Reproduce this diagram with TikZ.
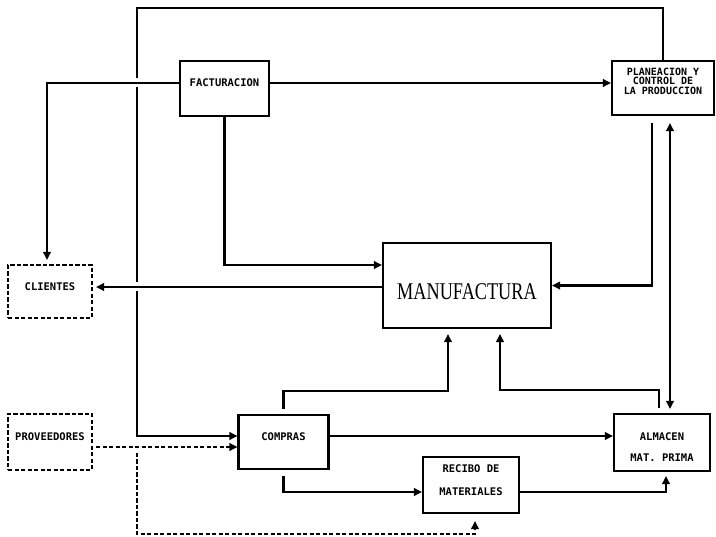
\documentclass[tikz,border=0pt]{standalone}
\usepackage{fontspec}
\usepackage{graphicx}
\newfontfamily\boxfont{DejaVu Sans Mono}
\newfontfamily\manfont{Liberation Serif}
\usetikzlibrary{arrows.meta,calc}
\begin{document}
\begin{tikzpicture}[x=1pt,y=-1pt,
  box/.style={draw,line width=2.1pt,inner sep=0pt},
  dbox/.style={box,dash pattern=on 4.2pt off 2.3pt},
  btext/.style={font=\boxfont\bfseries\fontsize{10.5}{21}\selectfont,align=center,inner sep=0pt},
  conn/.style={line width=2.1pt,-{Triangle[length=8pt,width=7.5pt]}},
  bconn/.style={line width=2.1pt,{Triangle[length=8pt,width=7.5pt]}-{Triangle[length=8pt,width=7.5pt]}},
  dconn/.style={conn,dash pattern=on 4.2pt off 2.3pt},
  gapwhite/.style={preaction={draw=white,line width=9pt,-,shorten <=3pt,shorten >=3pt}}]
\fill[white] (0,0) rectangle (716,537);
\useasboundingbox (0,0) rectangle (716,537);

% boxes
\node[box,minimum width=89pt,minimum height=55pt,
  label={[btext,name=factt,yshift=5.5pt]center:FACTURACION}] (fact) at (224.5,88.5) {};
\node[box,minimum width=102pt,minimum height=54pt,
  label={[btext,name=plant,yshift=7pt,font=\boxfont\bfseries\fontsize{10}{9.5}\selectfont]center:{PLANEACION Y\\CONTROL DE\\LA PRODUCCION}}] (plan) at (663,88) {};
\node[box,minimum width=168pt,minimum height=85pt,
  label={[name=manut,inner sep=0pt,yshift=-6.5pt]center:{\manfont\fontsize{24}{24}\selectfont\scalebox{0.76}[1]{MANUFACTURA}}}] (manu) at (467,285.5) {};
\node[dbox,minimum width=84pt,minimum height=53pt,
  label={[btext,name=clit,yshift=4.5pt]center:CLIENTES}] (cli) at (50,291.5) {};
\node[dbox,minimum width=84pt,minimum height=56pt,
  label={[btext,name=provt,yshift=5pt]center:PROVEEDORES}] (prov) at (50,442) {};
\node[box,minimum width=90pt,minimum height=54pt,
  label={[btext,name=compt,yshift=5pt]center:COMPRAS}] (comp) at (283.5,442) {};
\node[box,minimum width=96pt,minimum height=57pt,
  label={[btext,name=almt,yshift=-5pt]center:{ALMACEN\\MAT. PRIMA}}] (alm) at (662,442.5) {};
\node[box,minimum width=96pt,minimum height=56pt,
  label={[btext,name=rect,yshift=4.5pt,font=\boxfont\bfseries\fontsize{10.5}{23}\selectfont]center:{RECIBO DE\\MATERIALES}}] (rec) at (471,485) {};

% big loop: planeacion -> compras
\coordinate (tl) at (137,8);
\draw[conn] (plan.north) |- (tl) |- ([yshift=6pt]comp.west);

% facturacion connectors
\draw[conn] ([yshift=5.5pt]fact.east) -- ([yshift=5.5pt]fact.east -| plan.west);
\draw[conn,gapwhite,shorten >=4pt] ([yshift=5.5pt]fact.west) -| ([xshift=-3pt]cli.north);
\draw[conn] (fact.south) |- ([yshift=20.5pt]manu.west);

% manufactura -> clientes
\draw[conn,gapwhite,shorten >=3pt] ([yshift=-1.5pt]manu.west) -- ([yshift=-1.5pt]manu.west -| cli.east);

% planeacion -> manufactura, planeacion <-> almacen
\coordinate (p1) at ([xshift=-11pt,yshift=-7pt]plan.south);
\draw[conn] (p1) |- (manu.east);
\coordinate (p2) at ([xshift=7pt,yshift=-7pt]plan.south);
\coordinate (p3) at (p2 |- alm.north);
\draw[bconn] (p2) -- ([yshift=4pt]p3);

% compras / almacen -> manufactura
\draw[conn] ([yshift=5pt]comp.north) -- ++(0,-18) -| ([xshift=-19pt,yshift=-5pt]manu.south);
\draw[conn] ([xshift=-3pt,yshift=5pt]alm.north) -- ++(0,-18) -| ([xshift=33pt,yshift=-5pt]manu.south);

% compras -> almacen, compras -> recibo, recibo -> almacen
\draw[conn] ([yshift=6pt]comp.east) -- ([yshift=6pt]comp.east -| alm.west);
\draw[conn] ([yshift=-6pt]comp.south) |- ([yshift=-7pt]rec.west);
\draw[conn] ([yshift=-7pt]rec.east) -| ([xshift=4pt,yshift=-4pt]alm.south);

% proveedores dashed
\draw[dconn] ([xshift=3pt,yshift=-5pt]prov.east) -- ([yshift=-5pt]comp.west);
\coordinate (br) at ([yshift=-11pt]prov.east -| tl);
\coordinate (db) at (br |- 0,534);
\draw[dconn] (br) -- (db) -| ([xshift=4pt,yshift=-7pt]rec.south);
\end{tikzpicture}
\end{document}
